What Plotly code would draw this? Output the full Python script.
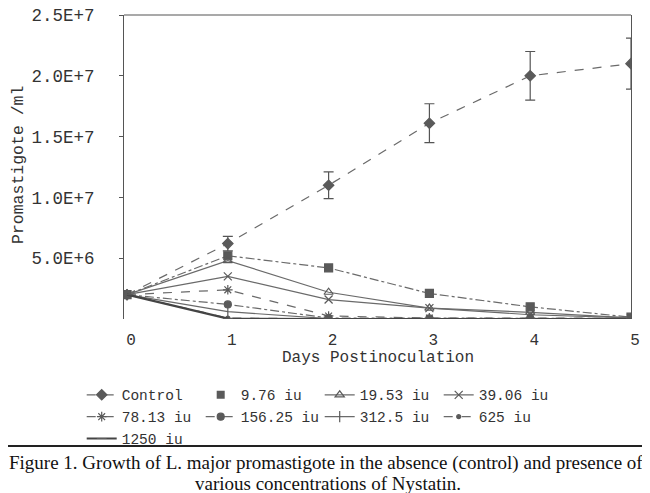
import plotly.graph_objects as go

days = [0, 1, 2, 3, 4, 5]

# values in cells/ml
control = [2.0e6, 6.2e6, 11.0e6, 16.1e6, 20.0e6, 21.0e6]
control_err = [0, 0.6e6, 1.1e6, 1.6e6, 2.0e6, 2.1e6]
iu_9_76 = [2.0e6, 5.2e6, 4.2e6, 2.1e6, 1.0e6, 0.15e6]
iu_19_53 = [2.0e6, 4.8e6, 2.2e6, 0.9e6, 0.55e6, 0.1e6]
iu_39_06 = [2.0e6, 3.5e6, 1.6e6, 0.9e6, 0.35e6, 0.1e6]
iu_78_13 = [2.0e6, 2.4e6, 0.25e6, 0.08e6, 0.08e6, 0.05e6]
iu_156_25 = [2.0e6, 1.2e6, 0.08e6, 0.05e6, 0.05e6, 0.05e6]
iu_312_5 = [2.0e6, 0.6e6, 0.03e6, 0.02e6, 0.02e6, 0.02e6]
iu_625 = [2.0e6, 0.08e6, 0.01e6, 0.01e6, 0.01e6, 0.01e6]
iu_1250 = [2.0e6, 0.03e6, 0.0, 0.0, 0.0, 0.0]

ytick_vals = [5e6, 1e7, 1.5e7, 2e7, 2.5e7]
ytick_text = ["5.0E+6", "1.0E+7", "1.5E+7", "2.0E+7", "2.5E+7"]
xtick_vals = [0, 1, 2, 3, 4, 5]

LINE = "#6a6a6a"
MARK = "#5a5a5a"
MONO = "Liberation Mono, Courier New, monospace"
SERIF = "Liberation Serif, Times New Roman, serif"

# page is shown with an 8px body margin, so the figure is 8px smaller
OFF = 8
W, H = 650 - OFF, 493 - OFF
PL, PR, PT, PB = 124, 631, 15, 319   # plot area in page pixels
PW, PH = PR - PL, PB - PT


def px(xp):
    return (xp - PL) / PW


def py(yp):
    return (PB - yp) / PH


# gap between y tick labels and the axis (non-breaking spaces)
ylabels = [t + "\u00a0\u00a0" for t in ytick_text]

fig = go.Figure()


def add(name, y, symbol, dash, size=7, width=1.2, lcolor=LINE, legend_line=True, err=None):
    if legend_line:
        fig.add_trace(go.Scatter(
            x=days, y=y, name=name, mode="lines+markers",
            line=dict(color=lcolor, width=width, dash=dash),
            marker=dict(symbol=symbol, size=size, color=MARK,
                        line=dict(color=MARK, width=1.2)),
            error_y=err,
        ))
    else:
        fig.add_trace(go.Scatter(
            x=days, y=y, name=name, mode="lines+markers", showlegend=False,
            line=dict(color=lcolor, width=width, dash=dash),
            marker=dict(symbol=symbol, size=size, color=MARK,
                        line=dict(color=MARK, width=1.2)),
        ))
        # legend-only entry showing just the marker
        fig.add_trace(go.Scatter(
            x=[None] * len(days), y=y, name=name, mode="markers",
            marker=dict(symbol=symbol, size=size, color=MARK),
            showlegend=True, hoverinfo="skip",
        ))


add("Control", control, "diamond", "dash", size=8,
    err=dict(type="data", array=control_err, visible=True, color="#555", thickness=1.2, width=5))
add("9.76 iu", iu_9_76, "square", "dashdot", size=8, legend_line=False)
add("19.53 iu", iu_19_53, "triangle-up-open", "solid", size=8)
add("39.06 iu", iu_39_06, "x-thin-open", "solid", size=8)
add("78.13 iu", iu_78_13, "asterisk-open", "dash", size=8)
add("156.25 iu", iu_156_25, "circle", "dashdot", size=7)
add("312.5 iu", iu_312_5, "line-ns-open", "solid", size=8)
add("625 iu", iu_625, "circle", "dash", size=4)
add("1250 iu", iu_1250, "line-ew-open", "solid", size=7, width=2.2, lcolor="#444")

fig.update_layout(
    width=W, height=H,
    paper_bgcolor="white", plot_bgcolor="white",
    margin=dict(l=PL - OFF, r=650 - PR, t=PT - OFF, b=H - (PB - OFF), autoexpand=False),
    font=dict(family=MONO, color="#333"),
    showlegend=True,
    legend=dict(
        orientation="h", x=0.386, xanchor="center", y=-0.197, yanchor="top",
        entrywidth=74, entrywidthmode="pixels", tracegroupgap=0,
        font=dict(family=MONO, size=14.5, color="#333"),
        bgcolor="rgba(0,0,0,0)", itemclick=False,
    ),
    xaxis=dict(
        range=[-0.03, 5.0], tickvals=xtick_vals, showgrid=False, zeroline=False,
        showline=False, ticks="", tickfont=dict(family=MONO, size=16, color="#333"),
        ticklabelshift=4, ticklabelstandoff=9,
    ),
    yaxis=dict(
        range=[0, 2.5e7], tickvals=ytick_vals, ticktext=ylabels,
        showgrid=False, zeroline=False, showline=True, mirror=True,
        linecolor="#555", linewidth=1.2, ticks="outside", ticklen=4,
        tickcolor="#555", tickfont=dict(family=MONO, size=17.5, color="#333"),
        ticklabeloverflow="allow",
    ),
    shapes=[
        dict(type="line", xref="paper", yref="paper", x0=0, x1=1, y0=1, y1=1,
             line=dict(color="#555", width=1.2)),
        dict(type="line", xref="paper", yref="paper",
             x0=px(OFF), x1=px(650), y0=py(446), y1=py(446),
             line=dict(color="#222", width=2)),
    ],
    annotations=[
        dict(text="Promastigote /ml", xref="paper", yref="paper",
             x=px(18), y=py(165), textangle=-90, showarrow=False,
             xanchor="center", yanchor="middle",
             font=dict(family=MONO, size=16.5, color="#333")),
        dict(text="Days Postinoculation", xref="paper", yref="paper",
             x=0.5, y=py(358), showarrow=False,
             xanchor="center", yanchor="middle",
             font=dict(family=MONO, size=16, color="#333")),
        dict(text="Figure 1. Growth of L. major promastigote in the absence (control) and presence of",
             xref="paper", yref="paper", x=px(326), y=py(463),
             showarrow=False, xanchor="center", yanchor="middle",
             font=dict(family=SERIF, size=19, color="#111")),
        dict(text="various concentrations of Nystatin.",
             xref="paper", yref="paper", x=px(328), y=py(483),
             showarrow=False, xanchor="center", yanchor="middle",
             font=dict(family=SERIF, size=19, color="#111")),
    ],
)

fig.write_html("out.html")
